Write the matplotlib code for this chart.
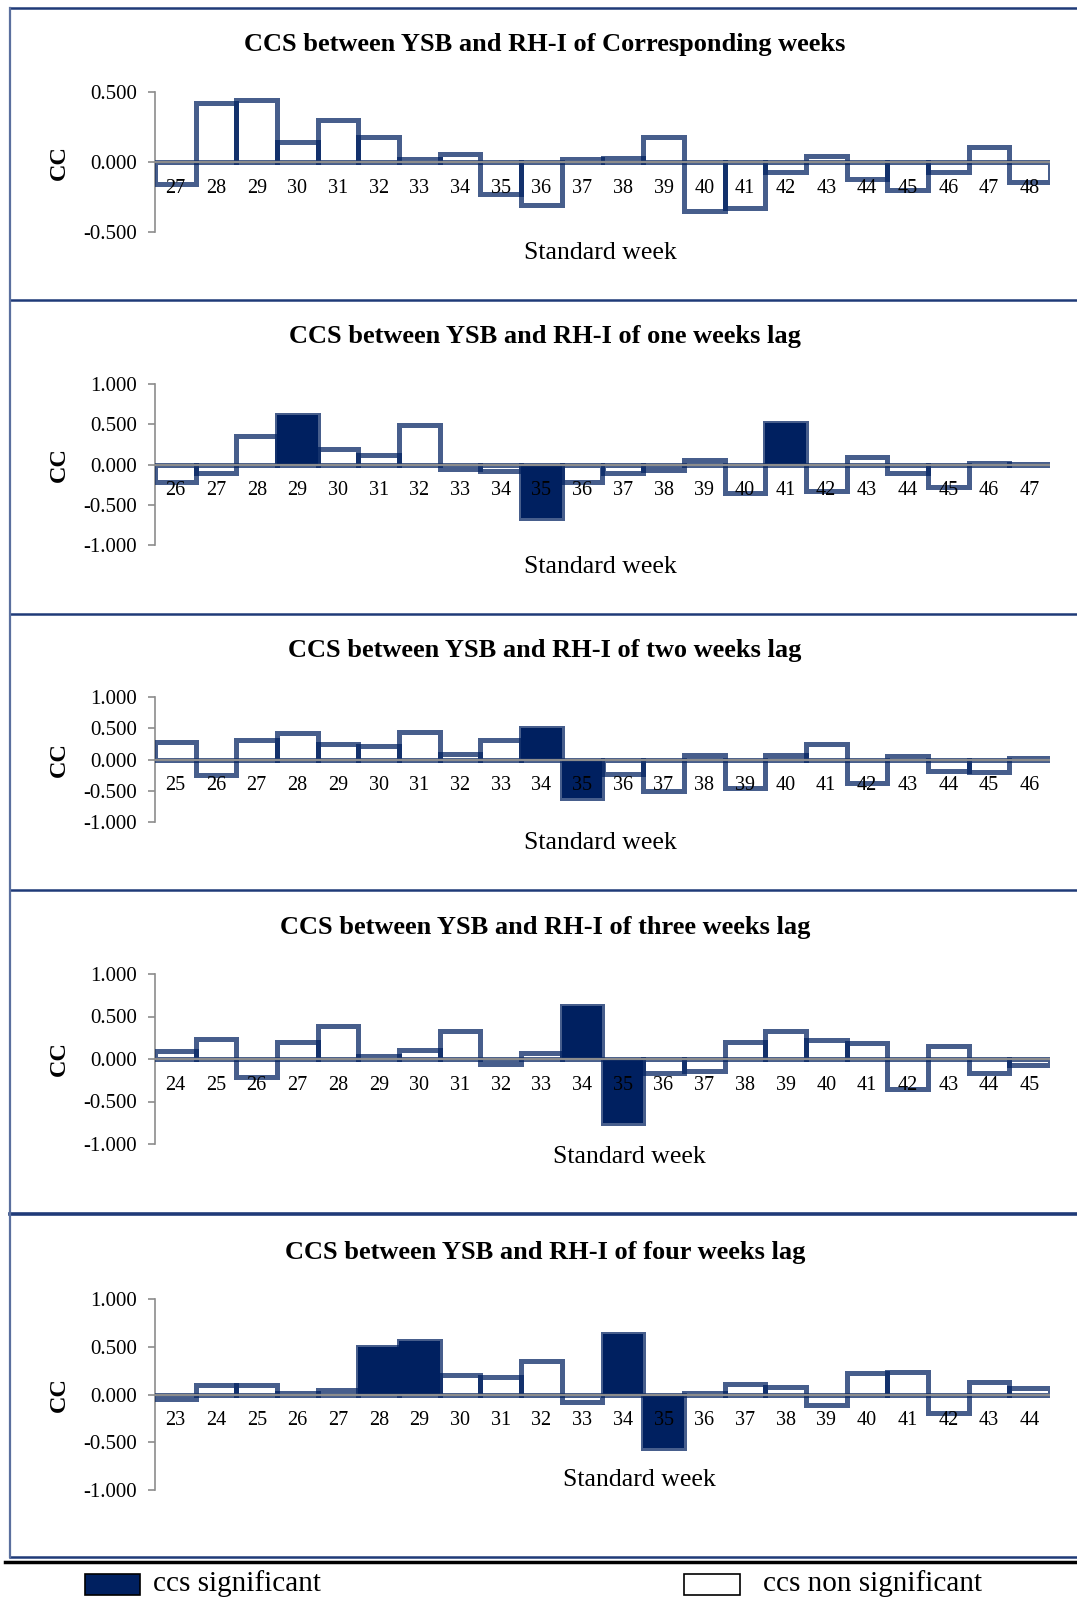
import numpy as np
import matplotlib
matplotlib.use("Agg")
import matplotlib.pyplot as plt
from matplotlib.lines import Line2D
from matplotlib.patches import Rectangle

plt.rcParams["font.family"] = ["Liberation Serif", "DejaVu Serif"]

# ---- data ----
titles = [
    "CCS between YSB and RH-I of Corresponding weeks",
    "CCS between YSB and RH-I of one weeks lag",
    "CCS between YSB and RH-I of two weeks lag",
    "CCS between YSB and RH-I of three weeks lag",
    "CCS between YSB and RH-I of four weeks lag",
]

weeks_0 = list(range(27, 49))
cc_0 = [-0.16, 0.42, 0.44, 0.14, 0.30, 0.18, 0.02, 0.06, -0.23, -0.31, 0.02,
        0.03, 0.18, -0.35, -0.33, -0.07, 0.04, -0.12, -0.20, -0.07, 0.11, -0.14]
sig_0 = []

weeks_1 = list(range(26, 48))
cc_1 = [-0.22, -0.11, 0.36, 0.61, 0.19, 0.12, 0.49, -0.05, -0.08, -0.66, -0.22,
        -0.10, -0.07, 0.06, -0.36, 0.52, -0.33, 0.09, -0.10, -0.28, 0.02, 0.01]
sig_1 = [29, 35, 41]

weeks_2 = list(range(25, 47))
cc_2 = [0.28, -0.25, 0.32, 0.42, 0.25, 0.22, 0.44, 0.09, 0.31, 0.50, -0.62,
        -0.23, -0.50, 0.07, -0.45, 0.07, 0.25, -0.37, 0.05, -0.18, -0.20, 0.02]
sig_2 = [34, 35]

weeks_3 = list(range(24, 46))
cc_3 = [0.10, 0.24, -0.21, 0.20, 0.39, 0.04, 0.11, 0.33, -0.06, 0.07, 0.62,
        -0.75, -0.17, -0.14, 0.20, 0.33, 0.22, 0.19, -0.35, 0.15, -0.16, -0.07]
sig_3 = [34, 35]

weeks_4 = list(range(23, 45))
cc_4 = [-0.05, 0.10, 0.10, 0.02, 0.05, 0.50, 0.56, 0.20, 0.18, 0.35, -0.08,
        0.63, -0.56, 0.02, 0.11, 0.08, -0.11, 0.23, 0.24, -0.19, 0.13, 0.07]
sig_4 = [28, 29, 34, 35]

weeks_all = [weeks_0, weeks_1, weeks_2, weeks_3, weeks_4]
cc_all = [cc_0, cc_1, cc_2, cc_3, cc_4]
sig_all = [sig_0, sig_1, sig_2, sig_3, sig_4]

# ---- layout (pixel positions in the 1077x1600 image) ----
W, H = 1077, 1600
axes_px = [(92, 232), (384, 545), (697, 822), (974, 1144), (1299, 1490)]
ylims = [0.5, 1.0, 1.0, 1.0, 1.0]
title_y = [45, 337, 651, 928, 1253]
xlab_pos = [(600, 253), (600, 567), (600, 843), (629, 1157), (639, 1480)]
borders = [8, 300, 614, 890, 1214, 1557]
border_lw = [1.8, 1.8, 1.8, 1.8, 2.6, 1.8]

navy = "#002060"
edge = (0.0, 0.125, 0.376, 0.72)

fig = plt.figure(figsize=(W / 100, H / 100), dpi=100)

for k in range(5):
    top, bot = axes_px[k]
    ax = fig.add_axes([155 / W, 1 - bot / H, (1050 - 155) / W, (bot - top) / H])
    n = len(weeks_all[k])
    x = np.arange(n)
    vals = np.array(cc_all[k])
    fills = [navy if w in sig_all[k] else "white" for w in weeks_all[k]]
    ax.bar(x, vals, width=1.0, color=fills, edgecolor="none", zorder=2)
    ax.bar(x, vals, width=1.0, color="none", edgecolor=edge, linewidth=3.6, zorder=3)
    ax.axhline(0, color="#8c8c8c", lw=1.6, zorder=5)
    ax.set_xlim(-0.5, n - 0.5)
    lim = ylims[k]
    ax.set_ylim(-lim, lim)
    ax.set_yticks(np.arange(-lim, lim + 0.01, 0.5))
    ax.set_yticklabels(["%.3f" % v for v in np.arange(-lim, lim + 0.01, 0.5)], fontsize=15)
    ax.set_xticks([])
    for s in ["top", "right", "bottom"]:
        ax.spines[s].set_visible(False)
    ax.spines["left"].set_color("#8c8c8c")
    ax.spines["left"].set_linewidth(1.2)
    ax.tick_params(axis="y", color="#8c8c8c", length=5, width=1.2, pad=8)
    ax.patch.set_alpha(0)
    for i, w in enumerate(weeks_all[k]):
        ax.annotate(str(w), (i, 0), xytext=(0, -19), textcoords="offset points",
                    ha="center", va="center", fontsize=14.5, zorder=6)
    fig.text(545 / W, 1 - title_y[k] / H, titles[k], ha="center", va="center",
             fontsize=19, fontweight="bold")
    fig.text(xlab_pos[k][0] / W, 1 - xlab_pos[k][1] / H, "Standard week",
             ha="center", va="center", fontsize=18.5)
    zero_y = (top + bot) / 2
    fig.text(59 / W, 1 - zero_y / H, "CC", ha="center", va="center",
             rotation=90, fontsize=17.5, fontweight="bold")

# panel frames
for yb, lw in zip(borders, border_lw):
    fig.add_artist(Line2D([10 / W, 1.0], [1 - yb / H, 1 - yb / H], color="#1f3a78", lw=lw))
fig.add_artist(Line2D([10 / W, 10 / W], [1 - borders[-1] / H, 1 - borders[0] / H],
                      color="#5a6f9e", lw=1.6))
fig.add_artist(Line2D([5 / W, 1.0], [1 - 1562 / H, 1 - 1562 / H], color="black", lw=2.5))

# legend
fig.add_artist(Rectangle((85 / W, 1 - 1595 / H), 55 / W, 21 / H, facecolor=navy,
                         edgecolor="black", lw=1.2))
fig.text(153 / W, 1 - 1584 / H, "ccs significant", ha="left", va="center", fontsize=21)
fig.add_artist(Rectangle((684 / W, 1 - 1595 / H), 56 / W, 21 / H, facecolor="white",
                         edgecolor="black", lw=1.2))
fig.text(763 / W, 1 - 1584 / H, "ccs non significant", ha="left", va="center", fontsize=21)

fig.savefig("out.png", dpi=100)
